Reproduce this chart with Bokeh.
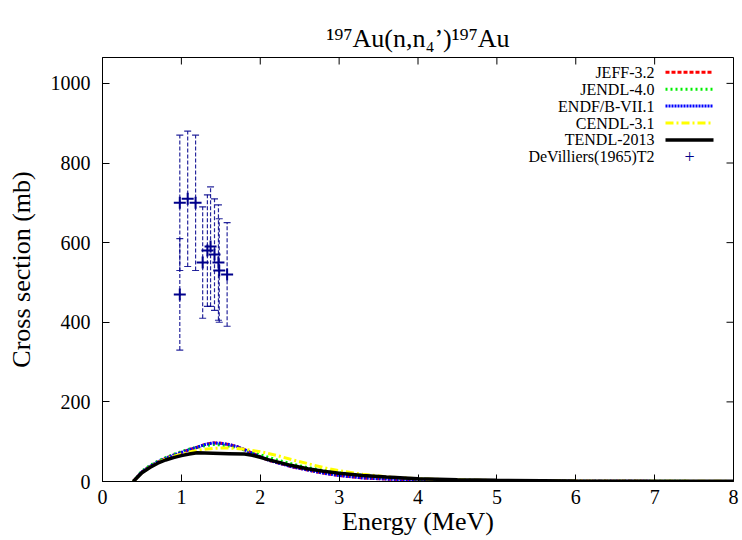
import math
from bokeh.plotting import figure
from bokeh.models import Label, Range1d, FixedTicker, Arrow
from bokeh.embed import file_html
from bokeh.resources import INLINE

# ---------------- data ----------------
e_jeff = [0.39, 0.5, 0.6, 0.7, 0.8, 0.9, 1.0, 1.1, 1.2, 1.3, 1.4, 1.5, 1.6, 1.7, 1.8, 1.9, 2.0, 2.1, 2.2, 2.4, 2.6, 2.8, 3.0, 3.3, 3.6, 4.0, 4.5, 5.0, 6.0, 7.0, 8.0]
xs_jeff = [0, 24, 38, 49, 58, 66, 73, 80, 86, 93, 97, 96, 93, 88, 80, 71, 62, 54, 48, 37, 29, 21, 15, 9, 6, 3.5, 2, 1.2, 0.5, 0.3, 0.2]

e_endf = [0.39, 0.5, 0.6, 0.7, 0.8, 0.9, 1.0, 1.1, 1.2, 1.3, 1.4, 1.5, 1.6, 1.7, 1.8, 1.9, 2.0, 2.1, 2.2, 2.4, 2.6, 2.8, 3.0, 3.3, 3.6, 4.0, 4.5, 5.0, 6.0, 7.0, 8.0]
xs_endf = [0, 24, 38, 49, 58, 66, 73, 80, 86, 93, 97, 96, 93, 88, 80, 71, 62, 54, 48, 37, 29, 21, 15, 9, 6, 3.5, 2, 1.2, 0.5, 0.3, 0.2]

e_jendl = [0.39, 0.5, 0.6, 0.7, 0.8, 0.9, 1.0, 1.1, 1.2, 1.3, 1.4, 1.5, 1.6, 1.7, 1.8, 1.9, 2.0, 2.2, 2.4, 2.6, 2.8, 3.0, 3.3, 3.6, 4.0, 4.5, 5.0, 6.0, 7.0, 8.0]
xs_jendl = [0, 26, 40, 51, 60, 68, 75, 81, 86, 90, 93, 92, 89, 85, 79, 73, 67, 55, 44, 35, 28, 22, 15, 10, 6, 3.5, 2, 0.8, 0.4, 0.2]

e_cendl = [0.39, 0.5, 0.6, 0.7, 0.8, 0.9, 1.0, 1.1, 1.2, 1.3, 1.4, 1.5, 1.6, 1.7, 1.8, 1.9, 2.0, 2.2, 2.4, 2.6, 2.8, 3.0, 3.3, 3.6, 4.0, 4.5, 5.0, 6.0, 7.0, 8.0]
xs_cendl = [0, 22, 36, 47, 56, 63, 69, 74, 78, 81, 83, 84, 84, 83, 81, 78, 75, 66, 55, 45, 35, 27, 18, 12, 7, 4, 2.5, 1, 0.5, 0.3]

e_tendl = [0.39, 0.5, 0.6, 0.7, 0.8, 0.9, 1.0, 1.1, 1.2, 1.4, 1.6, 1.8, 1.9, 2.0, 2.1, 2.2, 2.4, 2.6, 2.8, 3.0, 3.3, 3.6, 4.0, 4.5, 5.0, 6.0, 7.0, 8.0]
xs_tendl = [0, 22, 35, 46, 54, 60, 65, 69, 72, 71, 70, 69, 66, 61, 55, 50, 40, 32, 26, 21, 15, 11, 7, 4.5, 3, 1.5, 0.8, 0.5]

exp_energy = [0.98, 0.98, 1.08, 1.18, 1.27, 1.33, 1.37, 1.42, 1.47, 1.48, 1.58]
exp_xs = [470, 700, 710, 700, 550, 580, 590, 570, 550, 530, 520]
exp_err = [140, 170, 170, 170, 140, 140, 150, 140, 145, 130, 130]

x_ticks = [0, 1, 2, 3, 4, 5, 6, 7, 8]
y_ticks = [0, 200, 400, 600, 800, 1000]
x_min, x_max = 0, 8
y_min, y_max = 0, 1065

title_text = "\u00b9\u2079\u2077Au(n,n\u2084\u2019)\u00b9\u2079\u2077Au"
x_label = "Energy (MeV)"
y_label = "Cross section (mb)"

series_names = ["JEFF-3.2", "JENDL-4.0", "ENDF/B-VII.1", "CENDL-3.1", "TENDL-2013"]
series_colors = ["#ff0000", "#00ee00", "#0000ff", "#ffff00", "#000000"]
series_dash = ["4 2", "2 3", "2 1", "8 3 2 3", "solid"]
series_width = [3, 3, 3, 3, 3.5]
exp_name = "DeVilliers(1965)T2"
exp_color = "#00008b"

FONT = "Liberation Serif"

# ------------- figure -------------
W, H = 742, 540
FL, FR, FT, FB = 102, 9, 57, 59   # borders around the frame (canvas px)

p = figure(width=W, height=H, output_backend="svg", toolbar_location=None,
           x_range=Range1d(x_min, x_max), y_range=Range1d(y_min, y_max),
           min_border_left=FL, min_border_right=FR, min_border_top=FT, min_border_bottom=FB,
           title=title_text)
p.xgrid.visible = False
p.ygrid.visible = False
p.outline_line_color = "black"
p.outline_line_width = 1
p.background_fill_color = "white"
p.border_fill_color = "white"

p.title.text_font = FONT
p.title.text_font_size = "26px"
p.title.text_font_style = "normal"
p.title.align = "center"
p.title.text_color = "black"
p.title.standoff = 9

for ax in (p.xaxis[0], p.yaxis[0]):
    ax.major_tick_in = 7
    ax.major_tick_out = 0
    ax.minor_tick_line_color = None
    ax.axis_line_color = "black"
    ax.major_tick_line_color = "black"
    ax.major_label_text_font = FONT
    ax.major_label_text_font_size = "20px"
    ax.major_label_text_color = "black"
    ax.axis_label_text_font = FONT
    ax.axis_label_text_font_size = "26px"
    ax.axis_label_text_font_style = "normal"
    ax.axis_label_text_color = "black"
p.xaxis[0].ticker = FixedTicker(ticks=x_ticks)
p.yaxis[0].ticker = FixedTicker(ticks=y_ticks)
p.xaxis[0].major_label_standoff = 8
p.xaxis[0].axis_label_standoff = 0
p.yaxis[0].major_label_standoff = 12
p.yaxis[0].axis_label_standoff = 12
p.xaxis[0].axis_label = x_label
p.yaxis[0].axis_label = y_label

# mirror tick marks on top and right edges (half of each dash is clipped by the frame)
p.scatter(x_ticks, [y_max] * len(x_ticks), marker="dash", angle=math.pi / 2, size=14,
          line_color="black", line_width=1)
p.scatter([x_max] * len(y_ticks), y_ticks, marker="dash", size=14,
          line_color="black", line_width=1)

# ------------- curves -------------
curve_data = [(e_jeff, xs_jeff), (e_jendl, xs_jendl), (e_endf, xs_endf),
              (e_cendl, xs_cendl), (e_tendl, xs_tendl)]
for (ex, ey), col, dash, lw in zip(curve_data, series_colors, series_dash, series_width):
    p.line(ex, ey, line_color=col, line_width=lw, line_dash=dash)

# ------------- experimental data -------------
lo = [v - e for v, e in zip(exp_xs, exp_err)]
hi = [v + e for v, e in zip(exp_xs, exp_err)]
p.segment(x0=exp_energy, y0=lo, x1=exp_energy, y1=hi, line_color=exp_color,
          line_width=1.2, line_dash="4 2", line_alpha=0.85)
p.scatter(exp_energy, lo, marker="dash", size=7, line_color=exp_color, line_width=1.2, line_alpha=0.85)
p.scatter(exp_energy, hi, marker="dash", size=7, line_color=exp_color, line_width=1.2, line_alpha=0.85)
p.scatter(exp_energy, exp_xs, marker="cross", size=12, line_color=exp_color, line_width=2)

# ------------- legend (screen units relative to the frame, from reference px) -------------
def sx(rx):
    return rx - FL
def sy(ry):
    return (H - FB) - ry

def lab(text, rx, ry, size, align="left", baseline="alphabetic", color="black"):
    p.add_layout(Label(x=sx(rx), y=sy(ry), x_units="screen", y_units="screen", text=text,
                       text_font=FONT, text_font_size=f"{size}px", text_align=align,
                       text_baseline=baseline, text_color=color))

row_y = [71.8, 88.7, 105.6, 122.5, 139.4, 156.3]
for name, col, dash, lw, ry in zip(series_names, series_colors, series_dash, series_width, row_y):
    lab(name, 654, ry, 16, align="right", baseline="middle")
    p.add_layout(Arrow(end=None, x_start=sx(665), y_start=sy(ry), x_end=sx(713), y_end=sy(ry),
                       start_units="screen", end_units="screen",
                       line_color=col, line_width=lw, line_dash=dash))
lab(exp_name, 654, row_y[5], 16, align="right", baseline="middle")
lab("+", 689, row_y[5], 18, align="center", baseline="middle", color=exp_color)

open("out.html", "w").write(file_html(p, INLINE))
